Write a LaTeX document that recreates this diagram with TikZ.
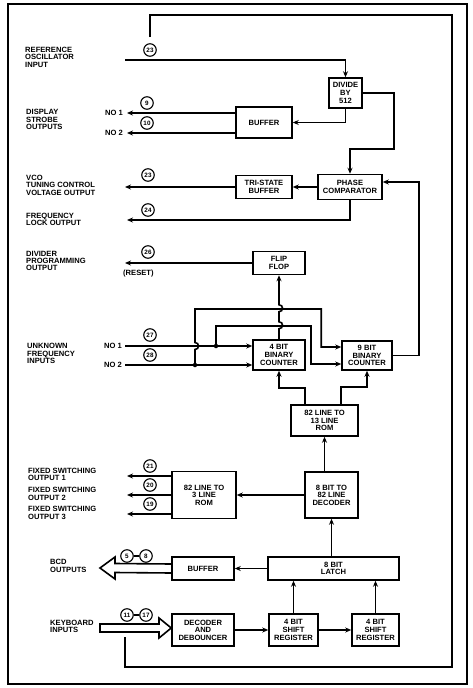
\documentclass[tikz,border=0pt]{standalone}
\usepackage{fontspec}
\setmainfont{Liberation Sans}
\usetikzlibrary{arrows.meta,calc}

\begin{document}
\begin{tikzpicture}[>={Stealth[length=6pt,width=5pt]}, x=1pt, y=-1pt]
	\tikzstyle{block}=[draw, line width=1.5pt, inner sep=0pt, align=center, font=\fontsize{7.6}{7.6}\selectfont\bfseries]
	\tikzstyle{wire}=[line width=1.6pt]
	\tikzstyle{pin}=[draw, circle, line width=1.1pt, inner sep=0pt, minimum size=12.5pt, font=\fontsize{6.3}{6.3}\selectfont\bfseries]
	\tikzstyle{lbl}=[anchor=west, align=left, inner sep=0pt, font=\fontsize{7.6}{7.4}\selectfont\bfseries]
	\tikzstyle{dot}=[fill, circle, inner sep=0pt, minimum size=4.5pt]

	\useasboundingbox (0,0) rectangle (473,688);
	\draw [line width=1.7pt] (8,4) rectangle (467,684);

	% blocks
	\node (div) [block, minimum width=33pt, minimum height=30pt] at (345.5,93) {DIVIDE\\BY\\512};
	\node (buf1) [block, minimum width=56pt, minimum height=31pt] at (264,122.5) {BUFFER};
	\node (tri) [block, minimum width=56pt, minimum height=23pt] at (264,187) {TRI-STATE\\BUFFER};
	\node (phase) [block, minimum width=64pt, minimum height=25pt] at (350,187) {PHASE\\COMPARATOR};
	\node (ff) [block, minimum width=52pt, minimum height=23pt] at (279,263) {FLIP\\FLOP};
	\node (cnt4) [block, minimum width=52pt, minimum height=30pt] at (279,355) {4 BIT\\BINARY\\COUNTER};
	\node (cnt9) [block, minimum width=50pt, minimum height=29pt] at (367,355.5) {9 BIT\\BINARY\\COUNTER};
	\node (rom13) [block, minimum width=67pt, minimum height=31pt] at (324.5,420.5) {82 LINE TO\\13 LINE\\ROM};
	\node (dec82) [block, minimum width=53pt, minimum height=46pt] at (331.5,495) {8 BIT TO\\82 LINE\\DECODER};
	\node (rom3) [block, minimum width=64pt, minimum height=47pt] at (204,495) {82 LINE TO\\3 LINE\\ROM};
	\node (latch) [block, minimum width=131pt, minimum height=23pt] at (333.5,568.5) {8 BIT\\LATCH};
	\node (buf2) [block, minimum width=62pt, minimum height=23pt] at (203,568.5) {BUFFER};
	\node (deb) [block, minimum width=62pt, minimum height=32pt] at (203,630) {DECODER\\AND\\DEBOUNCER};
	\node (sr1) [block, minimum width=49pt, minimum height=32pt] at (293.5,630) {4 BIT\\SHIFT\\REGISTER};
	\node (sr2) [block, minimum width=47pt, minimum height=32pt] at (375.5,630) {4 BIT\\SHIFT\\REGISTER};

	% pin numbers
	\node (p23a) [pin] at (150,50) {23};
	\node (p9) [pin] at (147,103) {9};
	\node (p10) [pin] at (147,123) {10};
	\node (p23b) [pin] at (148,175) {23};
	\node (p24) [pin] at (148,210) {24};
	\node (p26) [pin] at (148,252) {26};
	\node (p27) [pin] at (150,335) {27};
	\node (p28) [pin] at (150,355) {28};
	\node (p21) [pin] at (150,466) {21};
	\node (p20) [pin] at (150,485) {20};
	\node (p19) [pin] at (150,504) {19};
	\node (p5) [pin] at (127,556) {5};
	\node (p8) [pin] at (146,556) {8};
	\node (p11) [pin] at (127,615) {11};
	\node (p17) [pin] at (146,615) {17};
	\draw [wire] (p5) -- (p8);
	\draw [wire] (p11) -- (p17);

	% free ends
	\coordinate (refin) at (125,60);
	\coordinate (no1out) at (127,113);
	\coordinate (no2out) at (127,133);
	\coordinate (vcoout) at (125,187);
	\coordinate (lockout) at (127,220);
	\coordinate (progout) at (125,263);
	\coordinate (no1in) at (125,346);
	\coordinate (no2in) at (125,365);
	\coordinate (fs1) at (127,476);
	\coordinate (fs2) at (127,495);
	\coordinate (fs3) at (127,514);
	\coordinate (bcdout) at (100,568);
	\coordinate (kbin) at (100,628);
	\coordinate (looptop) at (150,37);
	\coordinate (loopend) at (125,637);

	% texts
	\node [lbl] at (25,57) {REFERENCE\\OSCILLATOR\\INPUT};
	\node [lbl] at (26,119.5) {DISPLAY\\STROBE\\OUTPUTS};
	\node [lbl] at (26,185) {VCO\\TUNING CONTROL\\VOLTAGE OUTPUT};
	\node [lbl] at (26,219.5) {FREQUENCY\\LOCK OUTPUT};
	\node [lbl] at (26,261) {DIVIDER\\PROGRAMMING\\OUTPUT};
	\node [lbl] at (27,353.5) {UNKNOWN\\FREQUENCY\\INPUTS};
	\node [lbl] at (28,474.5) {FIXED SWITCHING\\OUTPUT 1};
	\node [lbl] at (28,494) {FIXED SWITCHING\\OUTPUT 2};
	\node [lbl] at (28,513) {FIXED SWITCHING\\OUTPUT 3};
	\node [lbl] at (50,566) {BCD\\OUTPUTS};
	\node [lbl] at (50,626.5) {KEYBOARD\\INPUTS};
	\node [lbl, anchor=east] at ($(no1out)+(-4,0)$) {NO 1};
	\node [lbl, anchor=east] at ($(no2out)+(-4,0)$) {NO 2};
	\node [lbl, anchor=east] at ($(no1in)+(-3,0)$) {NO 1};
	\node [lbl, anchor=east] at ($(no2in)+(-3,0)$) {NO 2};
	\node [lbl] at (123,274) {(RESET)};

	% connections
	\draw [wire, ->] (refin) -| (div.north);
	\draw [wire, ->] (div.east) -- ++(31,0) |- ($(phase.north)+(0,-25)$) -- (phase.north);
	\draw [wire, ->] (div.south) |- (buf1.east);
	\draw [wire, ->] (no1out -| buf1.west) -- (no1out);
	\draw [wire, ->] (no2out -| buf1.west) -- (no2out);
	\draw [wire, ->] (phase.west) -- (tri.east);
	\draw [wire, ->] (tri.west) -- (vcoout);
	\draw [wire, ->] (phase.south) |- (lockout);
	\draw [wire, ->] (cnt9.east) -- ++(26,0) |- ($(phase.east)+(0,-5)$);
	\draw [wire, ->] (ff.west) -- (progout);
	\draw [wire, ->] (cnt4.north) -- ++(0,-10.5) .. controls +(4.7,0) and +(4.7,0) .. ++(0,-7)
		-- ++(0,-10) .. controls +(4.7,0) and +(4.7,0) .. ++(0,-7) -- (ff.south);

	\node (j1) [dot] at (216,346) {};
	\node (j2) [dot] at (195,365) {};
	\draw [wire, ->] (no1in) -- (cnt4.west |- no1in);
	\draw [wire, ->] (no2in) -- (cnt4.west |- no2in);
	\draw [wire, ->] (j2.center) -- ++(0,-15.5) .. controls +(4.7,0) and +(4.7,0) .. ++(0,-7)
		-- ++(0,-33.5) -| ($(cnt9.west)+(-20,-8.5)$) -- ($(cnt9.west)+(0,-8.5)$);
	\draw [wire, ->] (j1.center) -- ++(0,-20) -| ($(cnt9.west)+(-30,8.5)$) -- ($(cnt9.west)+(0,8.5)$);

	\draw [wire, ->] ($(rom13.north)+(-19.5,0)$) |- ($(cnt4.south)+(0,17)$) -- (cnt4.south);
	\draw [wire, ->] ($(rom13.north)+(16.5,0)$) |- ($(cnt9.south)+(0,16.5)$) -- (cnt9.south);
	\draw [wire, ->] (rom13.south |- dec82.north) -- (rom13.south);
	\draw [wire, ->] (dec82.south |- latch.north) -- (dec82.south);
	\draw [wire, ->] (dec82.west) -- (rom3.east);
	\draw [wire, ->] (fs1 -| rom3.west) -- (fs1);
	\draw [wire, ->] (fs2 -| rom3.west) -- (fs2);
	\draw [wire, ->] (fs3 -| rom3.west) -- (fs3);
	\draw [wire, ->] (latch.west) -- (buf2.east);
	\draw [wire, ->] (sr1.north) -- (sr1.north |- latch.south);
	\draw [wire, ->] (sr2.north) -- (sr2.north |- latch.south);
	\draw [wire, ->] (deb.east) -- (sr1.west);
	\draw [wire, ->] (sr1.east) -- (sr2.west);

	% wide bus arrows
	\draw [wire] ($(buf2.west)+(0,-4.5)$) -- ($(bcdout)+(15,-4.5)$) -- ($(bcdout)+(15,-11)$) -- (bcdout)
		-- ($(bcdout)+(15,11)$) -- ($(bcdout)+(15,4.5)$) -- ($(buf2.west)+(0,4.5)$);
	\draw [wire] ($(kbin)+(0,-4)$) -- ($(kbin)+(59,-4)$) -- ($(kbin)+(59,-10)$) -- (deb.west |- kbin)
		-- ($(kbin)+(59,10)$) -- ($(kbin)+(59,4)$) -- ($(kbin)+(0,4)$) -- cycle;

	% outer loop
	\draw [wire] (looptop) -- ++(0,-22) -| (452,667) -| (loopend);
\end{tikzpicture}
\end{document}
